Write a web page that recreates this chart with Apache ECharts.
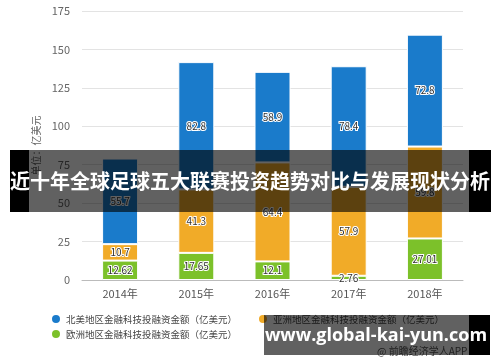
<!DOCTYPE html>
<html><head><meta charset="utf-8">
<script src="https://cdn.jsdelivr.net/npm/echarts@6/dist/echarts.min.js"></script>
<style>html,body{margin:0;padding:0;background:#fff}#c{width:500px;height:362px}</style>
</head><body><div id="c"></div>
<script>
const categories = ['2014年','2015年','2016年','2017年','2018年'];
const northAmerica = [55.7, 82.8, 58.9, 78.4, 72.8];
const asia = [10.7, 41.3, 64.4, 57.9, 59.8];
const europe = [12.62, 17.65, 12.1, 2.76, 27.01];
const seriesNames = ['北美地区金融科技投融资金额（亿美元）','亚洲地区金融科技投融资金额（亿美元）','欧洲地区金融科技投融资金额（亿美元）'];
const yTicks = {min: 0, max: 175, interval: 25};
const bannerTitle = '近十年全球足球五大联赛投资趋势对比与发展现状分析';
const watermark = 'www.global-kai-yun.com';
const credit = '@ 前瞻经济学人APP';

const font = '"Noto Sans CJK SC", "Noto Sans", sans-serif';
const colors = ['#1a7bcb', '#f1ab28', '#7cc12a'];
const lbl = {show: true, position: 'inside', color: '#333', fontSize: 10, fontFamily: font,
  textBorderColor: '#fff', textBorderWidth: 2};

function bar(name, data, color) {
  return {name, type: 'bar', stack: 'a', data, barWidth: 36,
    itemStyle: {color, borderColor: '#fff', borderWidth: 1},
    label: lbl};
}
const legendBase = {icon: 'circle', itemWidth: 10, itemHeight: 10, itemGap: 10,
  textStyle: {fontSize: 9.5, color: '#444', fontFamily: font}};

const chart = echarts.init(document.getElementById('c'), null, {renderer: 'canvas'});
chart.setOption({
  animation: false,
  color: colors,
  grid: {left: 82, right: 37, top: 11, bottom: 82},
  xAxis: {type: 'category', data: categories,
    axisLine: {lineStyle: {color: '#bbb'}}, axisTick: {show: false},
    axisLabel: {color: '#555', fontSize: 11, fontFamily: font, margin: 8}},
  yAxis: {type: 'value', min: yTicks.min, max: yTicks.max, interval: yTicks.interval,
    name: '单位：亿美元', nameLocation: 'middle', nameGap: 37,
    nameTextStyle: {color: '#666', fontSize: 10, fontFamily: font},
    axisLine: {show: false}, axisTick: {show: false},
    axisLabel: {color: '#666', fontSize: 11, fontFamily: font, margin: 12},
    splitLine: {lineStyle: {color: '#e3e3e3'}}},
  legend: [
    Object.assign({left: 45, top: 308, data: [seriesNames[0]]}, legendBase),
    Object.assign({left: 252, top: 308, data: [seriesNames[1]]}, legendBase),
    Object.assign({left: 45, top: 323, data: [seriesNames[2]]}, legendBase)
  ],
  series: [
    bar(seriesNames[2], europe, colors[2]),
    bar(seriesNames[1], asia, colors[1]),
    bar(seriesNames[0], northAmerica, colors[0])
  ],
  graphic: [
    {type: 'text', left: 377, top: 346, z: 10, style: {text: credit, fill: '#555', font: '10px ' + font}},
    {type: 'rect', shape: {x: 29, y: 150, width: 440, height: 62}, z: 20, style: {fill: 'rgba(0,0,0,0.62)'}},
    {type: 'rect', shape: {x: 10, y: 150, width: 19, height: 62}, z: 20, style: {fill: '#000'}},
    {type: 'rect', shape: {x: 469, y: 150, width: 22, height: 62}, z: 20, style: {fill: '#000'}},
    {type: 'text', x: 250, y: 181, z: 21, style: {text: bannerTitle, fill: '#fff', font: 'bold 20px ' + font, align: 'center', verticalAlign: 'middle'}},
    {type: 'rect', shape: {x: 264, y: 315, width: 205, height: 40}, z: 20, style: {fill: 'rgba(0,0,0,0.62)'}},
    {type: 'rect', shape: {x: 469, y: 315, width: 21, height: 40}, z: 20, style: {fill: '#000'}},
    {type: 'text', x: 376, y: 336, z: 21, style: {text: watermark, fill: '#fff', font: 'bold 18px "Open Sans", "DejaVu Sans", sans-serif', align: 'center', verticalAlign: 'middle'}}
  ]
});
</script></body></html>
